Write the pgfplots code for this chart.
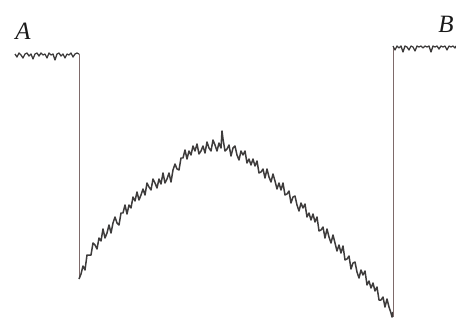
\documentclass[border=0pt]{standalone}
\usepackage{fontspec}
\setmainfont{Liberation Serif}
\usepackage{pgfplots}
\pgfplotsset{compat=1.18}
\definecolor{trace}{HTML}{3E3C3C}
\definecolor{edge}{HTML}{7E6A6A}
\begin{document}
\begin{tikzpicture}
\begin{axis}[
  width=456bp, height=324bp, scale only axis,
  axis lines=none, xmin=0, xmax=456, ymin=0, ymax=324, y dir=reverse,
  clip=false,
]
% flat part A
\addplot[trace, line width=1.3pt, line join=round] coordinates {
(15,54)(17,57)(19,53)(21,55)(23,58)(25,54)(27,53)(29,56)(31,54)(33,59)(35,54)(37,53)(39,56)(41,53)(43,55)(45,54)(47,58)(49,53)(51,55)(53,54)(55,60)(57,54)(59,53)(61,56)(63,54)(65,58)(67,54)(69,55)(71,53)(73,57)(75,54)(77,53)(79,54)
};
% vertical drop at A side
\addplot[edge, line width=0.8pt] coordinates {(79,54)(79,279)};
% noisy curve
\addplot[trace, line width=1.5pt, line join=round] coordinates {
(79,279)(81,274)(83,266)(85,270)(87,255)(89,255)(91,255)(93,243)(95,245)(97,249)(99,238)
(101,241)(103,229)(105,238)(107,233)(109,225)(111,233)(113,223)(115,217)(117,223)(119,225)
(121,213)(123,213)(125,205)(127,214)(129,205)(131,208)(133,197)(135,201)(137,192)(139,200)
(141,195)(143,189)(145,195)(147,183)(149,187)(151,190)(153,179)(155,183)(157,188)(159,179)
(161,184)(163,173)(165,183)(167,179)(169,173)(171,182)(173,170)(175,164)(177,169)(179,170)
(181,158)(183,158)(185,150)(187,159)(189,151)(191,155)(193,146)(195,151)(197,144)(199,154)
(201,151)(203,146)(205,153)(207,142)(209,148)(211,151)(213,140)(215,145)(217,151)(219,143)
(221,148)(222,131)(223,139)(225,151)(227,149)(229,145)(231,156)(233,148)(235,146)(237,155)(239,160)
(241,151)(243,155)(245,151)(247,163)(249,159)(251,165)(253,159)(255,166)(257,161)(259,173)
(261,172)(263,169)(265,178)(267,169)(269,177)(271,182)(273,174)(275,181)(277,189)(279,183)
(281,190)(283,183)(285,195)(287,194)(289,191)(291,203)(293,197)(295,196)(297,205)(299,211)
(301,203)(303,208)(305,204)(307,217)(309,213)(311,220)(313,214)(315,222)(317,217)(319,231)
(321,230)(323,227)(325,238)(327,229)(329,237)(331,243)(333,235)(335,243)(337,251)(339,245)
(341,253)(343,246)(345,260)(347,259)(349,256)(351,269)(353,263)(355,262)(357,272)(359,278)
(361,270)(363,275)(365,271)(367,285)(369,281)(371,288)(373,283)(375,291)(377,287)(379,300)
(381,300)(383,297)(385,307)(387,299)(389,307)(391,313)(392,317)(393,312)
};
% vertical rise at B side
\addplot[edge, line width=0.8pt] coordinates {(393,317)(393,46)};
% flat part B
\addplot[trace, line width=1.3pt, line join=round] coordinates {
(393,46)(395,50)(397,46)(399,48)(401,46)(403,52)(405,46)(407,47)(409,50)(411,46)(413,47)(415,51)(417,46)(419,47)(421,46)(423,48)(425,46)(427,47)(429,46)(431,52)(433,46)(435,47)(437,46)(439,49)(441,46)(443,47)(445,46)(447,50)(449,46)(451,47)(453,46)(455,48)(456,46)
};
\node[font=\fontsize{25}{27}\selectfont\itshape, text=black!90] at (axis cs:23,31) {A};
\node[font=\fontsize{25}{27}\selectfont\itshape, text=black!90] at (axis cs:446,24) {B};
\end{axis}
\pgfresetboundingbox
\path (current axis.south west) rectangle (current axis.north east);
\end{tikzpicture}
\end{document}
